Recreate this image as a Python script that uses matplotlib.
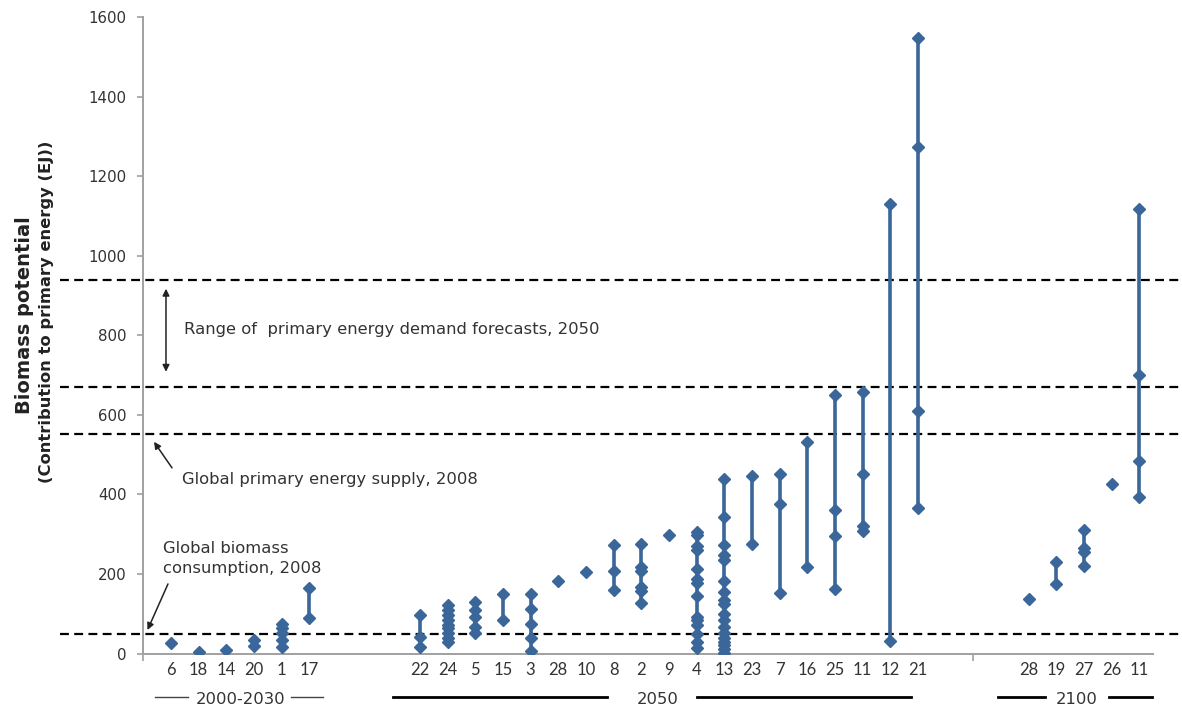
import matplotlib
matplotlib.use("Agg")
import matplotlib.pyplot as plt
import matplotlib.transforms as mtransforms

plt.rcParams["font.family"] = ["DejaVu Sans"]

# Biomass potential estimates (EJ) by study reference, grouped by horizon year
labels_2030 = ["6", "18", "14", "20", "1", "17"]
values_2030 = [[27], [5], [9], [19, 34], [17, 34, 52, 63, 74], [89, 164]]

labels_2050 = ["22", "24", "5", "15", "3", "28", "10", "8", "2", "9", "4",
               "13", "23", "7", "16", "25", "11", "12", "21"]
values_2050 = [
    [17, 42, 97],
    [30, 38, 51, 63, 72, 84, 97, 109, 122],
    [52, 67, 93, 109, 130],
    [83, 150],
    [7, 38, 74, 111, 150],
    [182],
    [206],
    [160, 208, 273],
    [126, 156, 168, 208, 217, 275],
    [298],
    [13, 30, 50, 72, 83, 91, 145, 178, 187, 212, 260, 269, 298, 306],
    [2, 11, 21, 30, 38, 52, 67, 84, 99, 125, 135, 155, 181, 235, 248, 273, 344, 439],
    [275, 447],
    [153, 375, 452],
    [218, 531],
    [161, 296, 361, 649],
    [309, 321, 452, 657],
    [32, 1131],
    [365, 610, 1273, 1548],
]

labels_2100 = ["28", "19", "27", "26", "11"]
values_2100 = [[136], [174, 231], [220, 254, 265, 311], [426], [394, 484, 699, 1118]]

# Reference levels (EJ)
biomass_consumption_2008 = 50
primary_supply_2008 = 552
demand_forecast_2050 = (670, 940)

groups = [
    ("2000-2030", labels_2030, values_2030, 1),
    ("2050", labels_2050, values_2050, 10),
    ("2100", labels_2100, values_2100, 32),
]

BLUE = "#3A6699"
TXT = "#333333"
W, H = 1182, 709
fig = plt.figure(figsize=(W / 100, H / 100), dpi=100)
ax_left, ax_right = 143.3 / W, 1153 / W
ax_bottom, ax_top = (H - 653.5) / H, (H - 17) / H
ax = fig.add_axes([ax_left, ax_bottom, ax_right - ax_left, ax_top - ax_bottom])
ax.set_xlim(0, 36.5)
ax.set_ylim(0, 1600)

tick_pos, tick_lab = [], []
for name, labels, values, start in groups:
    for i, (lab, vals) in enumerate(zip(labels, values)):
        x = start + i
        tick_pos.append(x)
        tick_lab.append(lab)
        if len(vals) > 1:
            ax.plot([x, x], [min(vals), max(vals)], color=BLUE, lw=2.6,
                    solid_capstyle="butt", zorder=3)
        ax.plot([x] * len(vals), vals, linestyle="none", marker="D",
                ms=6.6, color=BLUE, mec=BLUE, zorder=4)

# Horizontal reference lines extend past the plotting area
blend = mtransforms.blended_transform_factory(ax.transAxes, ax.transData)
x0 = (60 - 143.3) / (1153 - 143.3)
x1 = (1182 - 143.3) / (1153 - 143.3)
for lvl in [biomass_consumption_2008, primary_supply_2008, *demand_forecast_2050]:
    ax.plot([x0, x1], [lvl, lvl], transform=blend, color="black", lw=1.6,
            linestyle=(0, (4, 2.4)), clip_on=False, zorder=2)

# Axes styling
for s in ["top", "right"]:
    ax.spines[s].set_visible(False)
for s in ["left", "bottom"]:
    ax.spines[s].set_color("#A0A0A0")
    ax.spines[s].set_linewidth(1.4)
ax.set_yticks(range(0, 1601, 200))
ax.tick_params(axis="y", direction="out", length=4, width=1.2, color="#A0A0A0",
               labelsize=10.8, labelcolor=TXT, pad=8)
ax.set_xticks(tick_pos, tick_lab)
ax.tick_params(axis="x", which="major", length=0, pad=6, labelsize=12,
               labelcolor=TXT)
for t in ax.get_xticklabels():
    t.set_fontfamily(["Lato", "DejaVu Sans"])
ax.set_xticks(range(0, 37, 5), minor=True)
ax.tick_params(axis="x", which="minor", direction="out", length=5, width=1.2,
               color="#A0A0A0")

# Axis title
fig.text(25 / W, 1 - 315 / H, "Biomass potential", rotation=90, ha="center",
         va="center", fontsize=14, fontweight="bold", color="#222222")
fig.text(47 / W, 1 - 312 / H, "(Contribution to primary energy (EJ))", rotation=90,
         ha="center", va="center", fontsize=11.8, fontweight="bold", color="#222222")

# Period labels with flanking rules under the category labels
bx = mtransforms.blended_transform_factory(ax.transData, ax.transAxes)
ry = (653.5 - 697) / 636.5
ty = (653.5 - 700) / 636.5
period_rules = [
    ("2000-2030", 3.5, [(0.42, 1.62), (5.35, 6.49)], 1.0, "#444444"),
    ("2050", 18.6, [(9.02, 16.76), (20.0, 27.74)], 2.0, "black"),
    ("2100", 33.74, [(30.88, 32.59), (34.9, 36.45)], 2.0, "black"),
]
for name, cx, segs, lw, col in period_rules:
    ax.text(cx, ty, name, transform=bx, ha="center", va="center", fontsize=11.8,
            color=TXT)
    for a, b in segs:
        ax.plot([a, b], [ry, ry], transform=bx, color=col, lw=lw, clip_on=False)

# Annotations
def px(xp):
    return (xp - 143.3) / 27.67

def py(yp):
    return (653.5 - yp) / 0.3975

ANN = 11.8
arrow_kw = dict(arrowstyle="-|>", color="#222222", lw=1.1, mutation_scale=10,
                shrinkA=0, shrinkB=0)
ax.annotate("", xy=(px(166), py(289)), xytext=(px(166), py(372)),
            arrowprops=dict(arrowstyle="<|-|>", color="#222222", lw=1.1,
                            mutation_scale=10, shrinkA=0, shrinkB=0),
            annotation_clip=False)
ax.text(px(184), py(330), "Range of  primary energy demand forecasts, 2050",
        ha="left", va="center", fontsize=ANN, color=TXT)
ax.annotate("", xy=(px(154), py(442)), xytext=(px(172), py(468)),
            arrowprops=arrow_kw, annotation_clip=False)
ax.text(px(182), py(480), "Global primary energy supply, 2008",
        ha="left", va="center", fontsize=ANN, color=TXT)
ax.annotate("", xy=(px(147.5), py(630)), xytext=(px(168), py(584)),
            arrowprops=arrow_kw, annotation_clip=False)
ax.text(px(163), py(558.5), "Global biomass\nconsumption, 2008",
        ha="left", va="center", fontsize=ANN, color=TXT, linespacing=1.45)

fig.savefig("out.png", dpi=100)
